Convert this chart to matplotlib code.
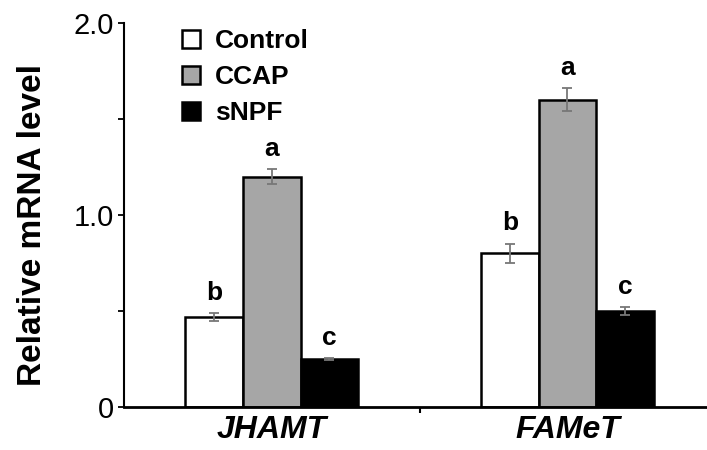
import numpy as np
import matplotlib.pyplot as plt

plt.rcParams['font.family'] = ['Liberation Sans', 'DejaVu Sans']

genes = ['JHAMT', 'FAMeT']
groups = ['Control', 'CCAP', 'sNPF']
control = [0.47, 0.80]
ccap = [1.20, 1.60]
snpf = [0.25, 0.50]
control_err = [0.02, 0.05]
ccap_err = [0.04, 0.06]
snpf_err = [0.005, 0.02]
letters = [['b', 'b'], ['a', 'a'], ['c', 'c']]

fig = plt.figure(figsize=(7.07, 4.5), dpi=100)
ax = fig.add_axes([124 / 707, 1 - 407 / 450, 1 - 124 / 707, 384 / 450])

x = np.arange(len(genes))
width = 0.195
colors = ['white', '#a6a6a6', 'black']
values = [control, ccap, snpf]
errs = [control_err, ccap_err, snpf_err]

for i, (vals, err, col, name) in enumerate(zip(values, errs, colors, groups)):
    pos = x + (i - 1) * width
    ax.bar(pos, vals, width, color=col, edgecolor='black', linewidth=1.8,
           label=name, zorder=2)
    ax.errorbar(pos, vals, yerr=err, fmt='none', ecolor='#777777',
                elinewidth=1.3, capsize=3.5, capthick=1.3, zorder=3)
    for p, v, e, t in zip(pos, vals, err, letters[i]):
        ax.annotate(t, (p, v + e), xytext=(0, 6), textcoords='offset points',
                    ha='center', va='bottom', fontsize=19, fontweight='bold')

ax.set_ylim(0, 2.0)
ax.set_xlim(-0.5, 1.472)
ax.set_yticks([0, 1.0, 2.0])
ax.set_yticklabels(['0', '1.0', '2.0'], fontsize=21)
ax.set_yticks([0.5, 1.5], minor=True)
ax.tick_params(axis='y', which='both', direction='out', length=4, width=1.3)
ax.set_xticks([0.5])
ax.set_xticklabels([''])
ax.tick_params(axis='x', direction='out', length=4, width=1.5)
for g, xi in zip(genes, x):
    ax.text(xi, -0.022, g, transform=ax.get_xaxis_transform(), ha='center',
            va='top', fontsize=23, fontweight='bold', fontstyle='italic')

fig.text(33 / 707, 1 - 225 / 450, 'Relative mRNA level', rotation=90,
         ha='center', va='center', fontsize=24, fontweight='bold')

ax.spines['top'].set_visible(False)
ax.spines['right'].set_visible(False)
ax.spines['left'].set_linewidth(1.5)
ax.spines['bottom'].set_linewidth(2)

ax.legend(loc='upper left', bbox_to_anchor=(0.058, 1.045), frameon=False,
          prop={'size': 19, 'weight': 'bold'}, handlelength=0.68,
          handleheight=0.68, handletextpad=0.6, labelspacing=0.45)

fig.savefig('out.png', dpi=100)
